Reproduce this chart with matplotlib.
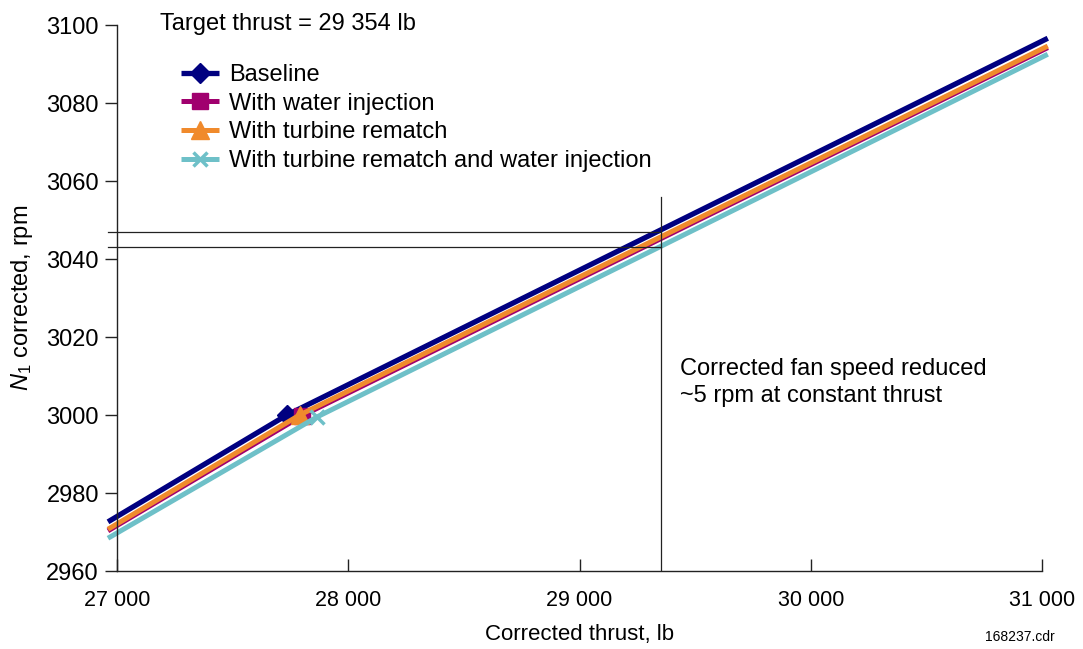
import matplotlib
matplotlib.use("Agg")
import matplotlib.pyplot as plt
from matplotlib.ticker import FuncFormatter

plt.rcParams['font.family'] = ['Liberation Sans', 'DejaVu Sans']
plt.rcParams['mathtext.fontset'] = 'custom'
plt.rcParams['mathtext.rm'] = 'Liberation Sans'
plt.rcParams['mathtext.it'] = 'Liberation Sans:italic'

# data
labels = ["Baseline", "With water injection", "With turbine rematch",
          "With turbine rematch and water injection"]
colors = ["#000080", "#A0006E", "#F08A2C", "#6EC0C8"]
markers = ["D", "s", "^", "x"]

base_x = [26961, 27735, 31025]
base_y = [2972.6, 3000.0, 3096.6]
water_x = [26961, 27800, 31025]
water_y = [2970.3, 2999.8, 3094.2]
turb_x = [26961, 27790, 31025]
turb_y = [2970.7, 3000.0, 3094.6]
both_x = [26961, 27865, 31025]
both_y = [2968.4, 2999.5, 3092.5]

target_thrust = 29354
n1_base_at_target = 3047.0
n1_both_at_target = 3043.2
vline_top = 3056

xticks = [27000, 28000, 29000, 30000, 31000]
yticks = [2960, 2980, 3000, 3020, 3040, 3060, 3080, 3100]

fig = plt.figure(figsize=(10.83, 6.49), dpi=100)
ax = fig.add_axes([117/1083, 78/649, 925/1083, 546/649])

series = [(base_x, base_y), (water_x, water_y), (turb_x, turb_y), (both_x, both_y)]
widths = [3.8, 3.6, 3.6, 3.6]
msizes = [10, 11, 13, 10]
for (xs, ys), lab, c, m, lw, ms in zip(series, labels, colors, markers, widths, msizes):
    ax.plot(xs, ys, color=c, lw=lw, marker=m, markevery=[1], ms=ms,
            mew=2.5 if m == "x" else 1, mec=c, label=lab, clip_on=False,
            solid_capstyle='butt')

# target thrust guide lines
ax.plot([target_thrust, target_thrust], [2960, vline_top], color="#222222", lw=0.9)
ax.plot([26960, target_thrust], [n1_base_at_target] * 2, color="#222222", lw=0.9, clip_on=False)
ax.plot([26960, target_thrust], [n1_both_at_target] * 2, color="#222222", lw=0.9, clip_on=False)

ax.set_xlim(27000, 31000)
ax.set_ylim(2960, 3100)
ax.set_xticks(xticks)
ax.set_yticks(yticks)
ax.xaxis.set_major_formatter(FuncFormatter(lambda v, p: f"{int(v):,}".replace(",", " ")))
for s in ["top", "right"]:
    ax.spines[s].set_visible(False)
for s in ["left", "bottom"]:
    ax.spines[s].set_color("#222222")
    ax.spines[s].set_linewidth(1.0)
ax.tick_params(axis='y', direction='out', length=9, width=1, color="#222222",
               labelsize=17, pad=4)
ax.tick_params(axis='x', direction='in', length=9, width=1, color="#222222",
               labelsize=15.5, pad=14)

ax.set_xlabel("Corrected thrust, lb", fontsize=16, labelpad=9)
ax.set_ylabel(r"$N_1$ corrected, rpm", fontsize=17, labelpad=8)

fig.text(160/1083, 1 - 24/649, "Target thrust = 29 354 lb", fontsize=17,
         ha='left', va='center')
ax.text(29435, 3008.4, "Corrected fan speed reduced\n~5 rpm at constant thrust",
        fontsize=17, ha='left', va='center', linespacing=1.3)
fig.text(1020/1083, 1 - 637/649, "168237.cdr", fontsize=10,
         ha='center', va='center')

leg = ax.legend(loc='upper left', bbox_to_anchor=(181/1083, 1 - 64/649),
                bbox_transform=fig.transFigure, frameon=False, fontsize=17,
                handlelength=1.6, handletextpad=0.42, labelspacing=0.28,
                borderpad=0, borderaxespad=0)

fig.savefig("out.png", dpi=100, facecolor="white")
